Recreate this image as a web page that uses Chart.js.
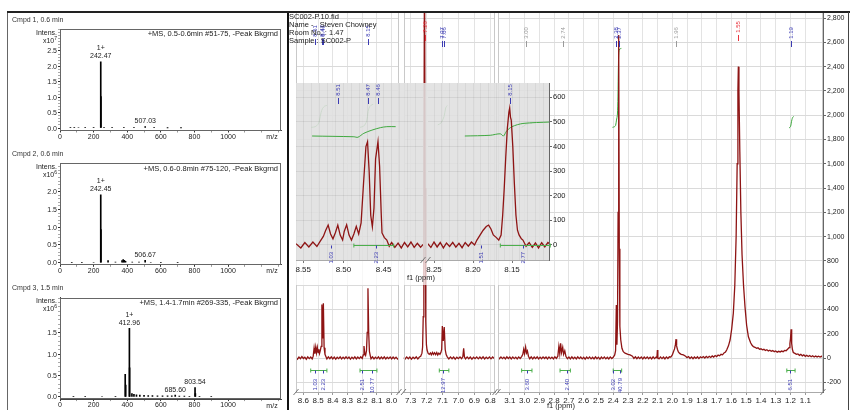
<!DOCTYPE html>
<html><head><meta charset="utf-8">
<script src="https://cdn.jsdelivr.net/npm/chart.js@4.4.1/dist/chart.umd.min.js"></script>
<style>
html,body{margin:0;padding:0;background:#fff;}
#root{position:relative;width:850px;height:410px;overflow:hidden;font-family:"Liberation Sans",Arial,sans-serif;background:#fff;}
#root canvas{position:absolute;left:0;top:0;}
.t{position:absolute;white-space:pre;color:#222;z-index:8;}
.box{position:absolute;}
</style></head><body><div id="root"></div>
<script>
// ================= DATA =================
// Mass spectra (left column)
const msTitles = ['Cmpd 1, 0.6 min', 'Cmpd 2, 0.6 min', 'Cmpd 3, 1.5 min'];
const msScanInfo = ['+MS, 0.5-0.6min #51-75, -Peak Bkgrnd', '+MS, 0.6-0.8min #75-120, -Peak Bkgrnd', '+MS, 1.4-1.7min #269-335, -Peak Bkgrnd'];
const msExponents = ['7', '6', '6'];
const msXTicks = [0, 100, 200, 300, 400, 500, 600, 700, 800, 900, 1000, 1100, 1200, 1300];
const msXTickLabels = [0, 200, 400, 600, 800, 1000];
const ms1YTicks = [0, 0.1, 0.2, 0.3, 0.4, 0.5, 0.6, 0.7, 0.8, 0.9, 1.0, 1.1, 1.2, 1.3, 1.4, 1.5, 1.6, 1.7, 1.8, 1.9, 2.0, 2.1, 2.2, 2.3, 2.4, 2.5, 2.6, 2.7, 2.8, 2.9, 3.0, 3.1, 3.2];
const ms2YTicks = [0, 0.1, 0.2, 0.3, 0.4, 0.5, 0.6, 0.7, 0.8, 0.9, 1.0, 1.1, 1.2, 1.3, 1.4, 1.5, 1.6, 1.7, 1.8, 1.9, 2.0, 2.1, 2.2, 2.3, 2.4, 2.5, 2.6, 2.7];
const ms3YTicks = [0, 0.1, 0.2, 0.3, 0.4, 0.5, 0.6, 0.7, 0.8, 0.9, 1.0, 1.1, 1.2, 1.3, 1.4, 1.5, 1.6, 1.7, 1.8, 1.9, 2.0, 2.1, 2.2, 2.3];
const ms1YLabels = [0.0, 0.5, 1.0, 1.5, 2.0, 2.5];
const ms2YLabels = [0.0, 0.5, 1.0, 1.5, 2.0];
const ms3YLabels = [0.0, 0.5, 1.0, 1.5];
const msYRanges = [[-0.081, 3.214], [-0.059, 2.8], [-0.049, 2.317]];

const ms1MZ  = [62, 85, 110, 150, 200, 242.47, 243.6, 262, 310, 380, 440, 507.03, 560, 640, 720];
const ms1Int = [0.012, 0.01, 0.015, 0.01, 0.012, 2.15, 1.02, 0.02, 0.01, 0.01, 0.008, 0.045, 0.01, 0.006, 0.005];
const ms1Labels = [[242.47, 2.15, '1+', '242.47'], [507.03, 0.045, '', '507.03']];

const ms2MZ  = [70, 130, 200, 242.45, 243.6, 286, 330, 369, 376, 383, 390, 430, 470, 506.67, 540, 600, 700];
const ms2Int = [0.01, 0.01, 0.012, 1.91, 0.93, 0.06, 0.015, 0.06, 0.09, 0.07, 0.04, 0.02, 0.015, 0.07, 0.012, 0.01, 0.006];
const ms2Labels = [[242.45, 1.91, '1+', '242.45'], [506.67, 0.07, '', '506.67']];

const ms3MZ  = [80, 150, 250, 330, 388, 391, 412.96, 414.2, 428, 440, 455, 475, 500, 525, 550, 580, 610, 640, 665, 685.6, 710, 740, 770, 803.54, 805.5, 830, 900];
const ms3Int = [0.01, 0.01, 0.012, 0.015, 0.53, 0.28, 1.6, 0.68, 0.08, 0.06, 0.05, 0.045, 0.04, 0.035, 0.035, 0.03, 0.03, 0.025, 0.03, 0.045, 0.02, 0.02, 0.015, 0.22, 0.08, 0.01, 0.006];
const ms3Labels = [[412.96, 1.6, '1+', '412.96'], [803.54, 0.22, '', '803.54'], [685.6, 0.045, '', '685.60']];

// 1H NMR: tick labels per ppm window
const seg1Ticks = [8.6, 8.5, 8.4, 8.3, 8.2, 8.1, 8.0];
const seg2Ticks = [7.3, 7.2, 7.1, 7.0, 6.9, 6.8];
const seg3Ticks = [3.1, 3.0, 2.9, 2.8, 2.7, 2.6, 2.5, 2.4, 2.3, 2.2, 2.1, 2.0, 1.9, 1.8, 1.7, 1.6, 1.5, 1.4, 1.3, 1.2, 1.1];
const nmrYTicks = [-200, 0, 200, 400, 600, 800, 1000, 1200, 1400, 1600, 1800, 2000, 2200, 2400, 2600, 2800];
const insetYTicks = [0, 100, 200, 300, 400, 500, 600];

// 1H NMR spectrum, three ppm windows [ppm, intensity]
const seg1Points = [[8.65,5],[8.64,-9],[8.63,8],[8.62,-6],[8.61,11],[8.60,-4],[8.59,7],[8.58,-10],[8.57,9],[8.56,-5],[8.55,8],[8.54,-7],[8.533,15],[8.527,82],[8.522,35],[8.516,90],[8.511,42],[8.505,88],[8.50,45],[8.495,72],[8.49,38],[8.485,62],[8.479,95],[8.474,440],[8.469,160],[8.464,450],[8.459,85],[8.453,30],[8.447,12],[8.44,-8],[8.43,9],[8.42,-6],[8.41,10],[8.40,-7],[8.39,8],[8.38,-9],[8.37,6],[8.36,-5],[8.35,9],[8.34,-8],[8.33,7],[8.32,-6],[8.31,10],[8.30,-5],[8.29,8],[8.28,-9],[8.27,7],[8.26,-6],[8.25,9],[8.24,-7],[8.23,8],[8.22,-5],[8.21,10],[8.20,-4],[8.193,25],[8.188,99],[8.183,38],[8.177,22],[8.171,60],[8.166,210],[8.161,574],[8.156,210],[8.151,55],[8.145,18],[8.14,-6],[8.13,9],[8.12,-8],[8.11,7],[8.10,-5],[8.09,10],[8.08,-7],[8.07,8],[8.06,-6],[8.05,9],[8.04,-8],[8.03,6],[8.02,-5],[8.01,9],[8.00,-7],[7.99,8],[7.98,-6],[7.97,7],[7.96,-9],[7.95,4]];
const seg2Points = [[7.345,3],[7.335,-8],[7.325,9],[7.315,-6],[7.305,8],[7.295,-9],[7.285,7],[7.275,-5],[7.265,10],[7.255,-7],[7.245,8],[7.237,14],[7.229,40],[7.225,90],[7.221,340],[7.217,1400],[7.213,3400],[7.209,1400],[7.205,300],[7.201,110],[7.197,66],[7.19,38],[7.183,30],[7.176,42],[7.17,26],[7.163,46],[7.157,30],[7.15,44],[7.143,28],[7.136,45],[7.13,25],[7.123,40],[7.116,30],[7.11,45],[7.105,70],[7.101,263],[7.095,140],[7.089,255],[7.083,70],[7.077,28],[7.07,10],[7.06,-7],[7.05,9],[7.04,-6],[7.03,8],[7.02,-9],[7.01,7],[7.00,-5],[6.99,9],[6.98,-6],[6.972,12],[6.967,80],[6.962,8],[6.955,-7],[6.945,9],[6.935,-6],[6.925,8],[6.915,-9],[6.905,7],[6.895,-5],[6.885,9],[6.875,-7],[6.865,8],[6.855,-6],[6.845,10],[6.835,-8],[6.825,7],[6.815,-5],[6.805,9],[6.795,-7],[6.785,8],[6.775,-4],[6.77,2]];
const seg3Points = [[3.18,8],[3.17,-6],[3.16,9],[3.15,-5],[3.14,7],[3.13,-8],[3.12,10],[3.11,-4],[3.10,8],[3.09,-7],[3.08,9],[3.07,-5],[3.06,7],[3.05,-8],[3.04,9],[3.03,-4],[3.02,12],[3.012,30],[3.006,72],[3.0,35],[2.993,90],[2.987,42],[2.981,58],[2.974,15],[2.965,-6],[2.955,9],[2.945,-7],[2.935,8],[2.925,-5],[2.915,9],[2.905,-8],[2.895,7],[2.885,-6],[2.875,9],[2.865,-4],[2.855,8],[2.845,-7],[2.835,9],[2.825,-5],[2.815,7],[2.805,-8],[2.795,10],[2.785,-3],[2.775,15],[2.768,95],[2.762,35],[2.756,121],[2.75,45],[2.742,88],[2.736,30],[2.728,60],[2.72,12],[2.71,-5],[2.70,8],[2.69,-7],[2.68,9],[2.67,-6],[2.66,7],[2.65,-8],[2.64,9],[2.63,-5],[2.62,8],[2.61,-7],[2.60,6],[2.59,-9],[2.58,8],[2.57,-5],[2.56,9],[2.55,-7],[2.54,6],[2.53,-8],[2.52,9],[2.51,-6],[2.50,7],[2.49,-9],[2.48,8],[2.47,-5],[2.46,9],[2.45,-7],[2.44,6],[2.43,-8],[2.42,9],[2.41,-4],[2.40,6],[2.39,25],[2.384,60],[2.379,436],[2.375,110],[2.371,300],[2.367,1200],[2.363,2660],[2.359,900],[2.355,260],[2.349,148],[2.341,80],[2.332,52],[2.32,40],[2.30,30],[2.286,25],[2.27,15],[2.26,-3],[2.25,10],[2.24,-6],[2.23,8],[2.22,-5],[2.21,9],[2.20,-7],[2.19,8],[2.18,-5],[2.17,9],[2.16,-6],[2.15,7],[2.14,-8],[2.13,9],[2.12,-5],[2.11,7],[2.104,2],[2.101,65],[2.098,3],[2.09,-7],[2.08,9],[2.07,-5],[2.06,8],[2.05,-7],[2.04,9],[2.03,-4],[2.02,10],[2.01,8],[2.0,25],[1.993,50],[1.985,75],[1.979,110],[1.975,155],[1.971,100],[1.965,70],[1.959,50],[1.95,38],[1.94,30],[1.925,25],[1.91,15],[1.90,3],[1.89,12],[1.88,-4],[1.87,9],[1.86,-6],[1.85,8],[1.84,-3],[1.83,10],[1.82,-5],[1.81,9],[1.80,2],[1.79,12],[1.78,0],[1.77,13],[1.76,3],[1.75,14],[1.74,5],[1.73,17],[1.72,8],[1.71,20],[1.70,12],[1.69,24],[1.68,18],[1.67,30],[1.66,26],[1.65,42],[1.64,50],[1.632,66],[1.62,100],[1.609,148],[1.598,240],[1.587,370],[1.577,600],[1.568,1000],[1.561,1600],[1.556,2200],[1.553,2400],[1.549,2200],[1.543,1700],[1.536,1200],[1.528,850],[1.518,600],[1.508,422],[1.497,270],[1.485,175],[1.47,125],[1.46,105],[1.451,93],[1.44,88],[1.43,80],[1.42,84],[1.41,72],[1.40,76],[1.39,68],[1.38,72],[1.37,62],[1.36,68],[1.35,58],[1.34,64],[1.33,55],[1.32,61],[1.31,52],[1.30,58],[1.29,48],[1.28,55],[1.27,50],[1.26,57],[1.25,52],[1.24,62],[1.23,60],[1.22,72],[1.21,85],[1.204,120],[1.2,160],[1.196,236],[1.192,120],[1.187,70],[1.181,45],[1.17,38],[1.16,30],[1.15,34],[1.14,22],[1.13,30],[1.12,18],[1.11,26],[1.10,14],[1.09,22],[1.08,12],[1.07,20],[1.06,10],[1.05,18],[1.04,8],[1.03,17],[1.02,9],[1.01,15],[1.0,8],[0.99,14],[0.98,10]];

// integral curves (green) in the main spectrum
const seg1IntCurves = [
  [[8.545,1900],[8.52,1905],[8.50,1925],[8.49,1960],[8.48,2020],[8.47,2055],[8.455,2075],[8.44,2080]],
  [[8.215,1900],[8.19,1910],[8.17,1950],[8.16,2030],[8.15,2070],[8.135,2085],[8.125,2090]]
];
const seg2IntCurves = [[[7.13,1920],[7.11,1935],[7.09,1990],[7.08,2060],[7.07,2080]]];
const seg3IntCurves = [
  [[3.02,1900],[3.005,1910],[2.99,1925],[2.975,1930],[2.95,1932]],
  [[2.405,1900],[2.392,1905],[2.384,1915],[2.378,1960],[2.372,2000],[2.368,2150],[2.365,2400],[2.362,2520],[2.356,2545],[2.345,2550]],
  [[1.21,1895],[1.2,1905],[1.195,1935],[1.19,1965],[1.185,1982],[1.178,1990]]
];

// peak labels [ppm, text, colour key]
const seg1PeakLabels = [[8.52,'8.51','b'],[8.474,'8.47','b'],[8.464,'8.46','b'],[8.161,'8.15','b']];
const seg2PeakLabels = [[7.213,'7.26','r'],[7.101,'7.07','b'],[7.089,'7.06','b']];
const seg3PeakLabels = [[2.99,'3.00','g'],[2.738,'2.74','g'],[2.379,'2.38','b'],[2.363,'2.37','b'],[1.975,'1.96','g'],[1.553,'1.55','r'],[1.196,'1.19','b']];

// integration ranges and values
const seg1Integrals = [[8.55,8.44],[8.215,8.10]];
const seg1IntValues = [[8.52,'1.03'],[8.464,'2.23'],[8.203,'2.51'],[8.135,'10.77']];
const seg2Integrals = [[7.12,7.06]];
const seg2IntValues = [[7.095,'12.97']];
const seg3Integrals = [[3.02,2.95],[2.76,2.69],[2.40,2.343],[1.225,1.169]];
const seg3IntValues = [[2.986,'3.60'],[2.715,'2.40'],[2.40,'3.02'],[2.354,'40.79'],[1.203,'6.51']];

// expansion (inset)
const insetAPoints = [[8.559,5],[8.553,-12],[8.548,10],[8.543,-8],[8.538,12],[8.533,-6],[8.529,15],[8.525,35],[8.522,60],[8.519,81],[8.516,45],[8.513,25],[8.51,50],[8.507,81],[8.504,40],[8.501,20],[8.499,55],[8.496,82],[8.493,40],[8.49,20],[8.487,45],[8.484,76],[8.481,45],[8.478,90],[8.475,250],[8.472,400],[8.47,420],[8.468,300],[8.466,120],[8.464,74],[8.462,150],[8.46,350],[8.457,420],[8.455,320],[8.453,130],[8.452,49],[8.449,30],[8.446,20],[8.443,-5],[8.44,10],[8.436,-10],[8.432,8],[8.428,-12],[8.424,10],[8.42,-8],[8.416,12],[8.412,-10],[8.408,7],[8.404,-9],[8.40,5]];
const insetBPoints = [[8.258,5],[8.254,-10],[8.25,12],[8.246,-8],[8.242,10],[8.238,-12],[8.234,8],[8.23,-6],[8.226,11],[8.222,-9],[8.218,7],[8.214,-11],[8.21,10],[8.206,-5],[8.202,12],[8.198,0],[8.195,20],[8.191,40],[8.187,60],[8.183,75],[8.18,81],[8.177,65],[8.174,41],[8.17,30],[8.167,20],[8.164,40],[8.162,120],[8.16,230],[8.158,360],[8.156,474],[8.154,540],[8.153,557],[8.152,520],[8.151,508],[8.149,400],[8.147,250],[8.145,122],[8.143,60],[8.141,41],[8.138,25],[8.136,20],[8.132,-5],[8.128,10],[8.124,-10],[8.12,8],[8.116,-12],[8.112,9],[8.108,-8],[8.104,10],[8.1,0]];
const insetAIntCurve = [[8.539,443],[8.487,440],[8.482,438],[8.4746,454],[8.4645,467],[8.454,477],[8.446,481],[8.435,481]];
const insetBIntCurve = [[8.2105,443],[8.178,446],[8.165,452],[8.161,443],[8.157,463],[8.150,481],[8.136,494],[8.101,500]];
const insetAPeakLabels = [[8.507,'8.51','b'],[8.47,'8.47','b'],[8.457,'8.46','b']];
const insetBPeakLabels = [[8.153,'8.15','b']];
const insetAIntegrals = [[8.487,8.4375]];
const insetAIntValues = [[8.515,'1.03'],[8.46,'2.23']];
const insetBIntegrals = [[8.165,8.101]];
const insetBIntValues = [[8.19,'1.51'],[8.136,'2.77']];

const headerLines = ['SC002-P.10.fid', 'Name -   Steven Chowney', 'Room No. : 1.47', 'Sample : SC002-P'];

// ================= DRAWING =================
Chart.defaults.font.family = '"Liberation Sans", Arial, sans-serif';
Chart.defaults.color = '#222';
const H = 430;
const root = document.getElementById('root');
const COL = {b:'#3b3bb3', r:'#e8323c', g:'#9a9a9a'};
const near = (list, v) => list.some(w => Math.abs(w - v) < 1e-6);

function canvas(l, w, z){ const c=document.createElement('canvas'); c.width=w; c.height=H; c.style.width=w+'px'; c.style.height=H+'px'; c.style.left=l+'px'; c.style.zIndex=z; root.appendChild(c); return c; }
function box(l,t,w,h,css){ const d=document.createElement('div'); d.className='box'; d.style.left=l+'px'; d.style.top=t+'px'; d.style.width=w+'px'; d.style.height=h+'px'; Object.assign(d.style, css||{}); root.appendChild(d); return d; }
function txt(s,x,y,o){ o=o||{}; const size=o.size||7; const d=document.createElement('div'); d.className='t'; d.style.fontSize=size+'px'; d.style.lineHeight=size+'px'; if(o.color) d.style.color=o.color; if(o.html) d.innerHTML=s; else d.textContent=s; d.style.top=(y-size/2)+'px'; if(o.align==='right') d.style.right=(850-x)+'px'; else if(o.align==='center'){ d.style.left=x+'px'; d.style.transform='translateX(-50%)'; } else d.style.left=x+'px'; root.appendChild(d); return d; }
function rotText(ctx,t,x,yc,color,size){ ctx.save(); ctx.translate(x,yc); ctx.rotate(-Math.PI/2); ctx.fillStyle=color; ctx.font=size+'px "Liberation Sans", Arial, sans-serif'; ctx.textAlign='center'; ctx.textBaseline='middle'; ctx.fillText(t,0,0); ctx.restore(); }

// ---- left column frame
box(7,12,279,400,{borderLeft:'1px solid #666', borderRight:'2px solid #111', zIndex:1});

const msGeom = [{top:29,bottom:130.5},{top:163.3,bottom:264.8},{top:297.6,bottom:399.1}];
const frame = {id:'frame', afterDraw(chart){ const {ctx, chartArea:a}=chart; ctx.save(); ctx.strokeStyle='#666'; ctx.lineWidth=1; ctx.strokeRect(Math.round(a.left)+0.5, Math.round(a.top)+0.5, Math.round(a.right)-Math.round(a.left)-1, Math.round(a.bottom)-Math.round(a.top)-1); ctx.restore(); }};
function msLabelPlugin(labels){ return {id:'mslab', afterDraw(chart){ const {ctx, scales:{x,y}}=chart; ctx.save(); ctx.font='7px "Liberation Sans", Arial, sans-serif'; ctx.fillStyle='#222'; ctx.textAlign='center'; ctx.textBaseline='middle'; labels.forEach(l=>{ const px=x.getPixelForValue(l[0]), py=y.getPixelForValue(l[1]); ctx.fillText(l[3],px,py-5.5); if(l[2]) ctx.fillText(l[2],px,py-13.5); }); ctx.restore(); }}; }

function makeMS(i, mz, inten, labels, yTicks, yLabels){
  const g = msGeom[i], yr = msYRanges[i];
  const cv = canvas(0, 288, 5);
  const chart = new Chart(cv, {
    type:'bar',
    data:{datasets:[{data: mz.map((m,k)=>({x:m, y:inten[k]})), backgroundColor:'#000', borderWidth:0, barThickness:1, grouped:false}]},
    options:{
      responsive:false, animation:false, devicePixelRatio:1, events:[],
      layout:{padding:{left:8, right:288-281, top:g.top, bottom:0}},
      plugins:{legend:{display:false}, tooltip:{enabled:false}},
      scales:{
        x:{type:'linear', offset:false, min:0, max:1315,
          afterBuildTicks:s=>{ s.ticks = msXTicks.map(v=>({value:v})); },
          grid:{offset:false, drawOnChartArea:false, tickLength:2, color:c=>(c.tick && near(msXTickLabels, c.tick.value))?'#333':'#999'},
          border:{color:'#444'},
          ticks:{autoSkip:false, maxRotation:0, padding:0, font:{size:7}, color:'#222',
            callback:v=> near(msXTickLabels, v) ? String(v) : ''},
          afterFit:s=>{s.height = H - g.bottom;}},
        y:{min:yr[0], max:yr[1],
          afterBuildTicks:s=>{ s.ticks = yTicks.map(v=>({value:v})); },
          grid:{drawOnChartArea:false, tickLength:2, color:c=>(c.tick && near(yLabels, c.tick.value))?'#333':'#aaa'},
          border:{color:'#444'},
          ticks:{display:false},
          afterFit:s=>{s.width=52;}}
      }
    },
    plugins:[frame, msLabelPlugin(labels)]
  });
  // y tick labels placed with the chart's own y scale
  const ys = chart.scales.y;
  yLabels.forEach(v => txt(v.toFixed(1), ys.right - 3, ys.getPixelForValue(v), {align:'right', size:7}));
  txt(msTitles[i], 12, g.top-10, {size:7, color:'#333'});
  txt('Intens.', 57, g.top+3, {align:'right', size:7});
  txt('x10<span style="font-size:5px;position:relative;top:-3px">'+msExponents[i]+'</span>', 57, g.top+11, {align:'right', size:7, html:true});
  txt(msScanInfo[i], 278, g.top+5, {align:'right', size:7.5});
  txt('m/z', 272, g.bottom+6, {align:'center', size:7});
}
makeMS(0, ms1MZ, ms1Int, ms1Labels, ms1YTicks, ms1YLabels);
makeMS(1, ms2MZ, ms2Int, ms2Labels, ms2YTicks, ms2YLabels);
makeMS(2, ms3MZ, ms3Int, ms3Labels, ms3YTicks, ms3YLabels);

// ---- NMR
function annot(o){ return {id:'annot', afterDatasetsDraw(chart){
  const {ctx, chartArea:a, scales:{x,y}} = chart;
  ctx.save(); ctx.lineWidth=1;
  if(o.frame){ ctx.strokeStyle=o.frame; ctx.beginPath(); const l=Math.round(a.left)+0.5, r=Math.round(a.right)-0.5; ctx.moveTo(l,a.top); ctx.lineTo(l,a.bottom); ctx.moveTo(r,a.top); ctx.lineTo(r,a.bottom); ctx.stroke(); }
  const iy = Math.round(y.getPixelForValue(o.intValue))+0.5;
  (o.integrals||[]).forEach(([f,t])=>{ const x1=x.getPixelForValue(f), x2=x.getPixelForValue(t); ctx.strokeStyle='#4caf4c'; ctx.beginPath(); ctx.moveTo(x1,iy); ctx.lineTo(x2,iy); ctx.moveTo(x1,iy-2); ctx.lineTo(x1,iy+2); ctx.moveTo(x2,iy-2); ctx.lineTo(x2,iy+2); ctx.stroke(); });
  (o.intValues||[]).forEach(([p,t])=>{ const px=Math.round(x.getPixelForValue(p))+0.5; ctx.strokeStyle=COL.b; ctx.beginPath(); ctx.moveTo(px,iy); ctx.lineTo(px,iy+3); ctx.stroke(); rotText(ctx,t,px,iy+o.intOff+t.length*0.8,COL.b,o.fs); });
  (o.peaks||[]).forEach(([p,t,c])=>{ const px=Math.round(x.getPixelForValue(p))+0.5; const col=COL[c]; const yc=(c==='r')?o.topY-6:o.topY; rotText(ctx,t,px,yc,col,o.fs); ctx.strokeStyle=col; ctx.beginPath(); ctx.moveTo(px,yc+8); ctx.lineTo(px,yc+14); ctx.stroke(); });
  ctx.strokeStyle='#777';
  (o.breaks||[]).forEach(side=>{ const bx = side==='l'?a.left:a.right; ctx.beginPath(); ctx.moveTo(bx-2.5,a.bottom+3); ctx.lineTo(bx+2.5,a.bottom-3); ctx.stroke(); });
  ctx.restore();
}}; }

function spectrum(o){
  const CL = 288, CW = 850-288;
  const cv = canvas(CL, CW, o.z);
  const ds = [{data:o.pts.map(p=>({x:p[0],y:p[1]})), borderColor:'#8e1414', borderWidth:1.3, pointRadius:0, tension:0, order:0}];
  (o.curves||[]).forEach(c=>ds.push({data:c.map(p=>({x:p[0],y:p[1]})), borderColor:'#3fa83f', borderWidth:1, pointRadius:0, tension:0.3, order:1}));
  const axisW = o.axisW||0;
  const xOpts = {type:'linear', reverse:true, min:o.xMin, max:o.xMax,
        grid:{color:o.xGrid, tickLength:3, tickColor:o.xTickColor},
        border:{color:'#aaa'},
        ticks:{stepSize:o.xStep, includeBounds:false, autoSkip:false, maxRotation:0, padding:o.xPad, font:{size:8}, color:'#222', callback:o.xLabel},
        afterFit:s=>{s.height = H - o.bottom;}};
  if(o.xTicks) xOpts.afterBuildTicks = s=>{ s.ticks = o.xTicks.map(v=>({value:v})); };
  new Chart(cv, {type:'line', data:{datasets:ds}, options:{
    responsive:false, animation:false, devicePixelRatio:1, events:[],
    layout:{padding:{left:o.left-CL, right:850-o.right-axisW, top:o.top, bottom:0}},
    plugins:{legend:{display:false}, tooltip:{enabled:false}},
    scales:{
      x:xOpts,
      y:{position: axisW?'right':'left', min:o.yMin, max:o.yMax,
        afterBuildTicks:s=>{ s.ticks = o.yTicks.map(v=>({value:v})); },
        grid:{color:o.yGrid, tickLength:3, tickColor:'#666', drawTicks:!!axisW},
        border:{display:!!axisW, color:'#666'},
        ticks:{display:!!axisW, autoSkip:false, padding:1, font:{size:o.yFont||7}, color:'#222'},
        afterFit:s=>{s.width = axisW;}}
    }}, plugins:[annot(o.annot)]});
}

const mainCommon = {z:2, top:12, bottom:392, yMin:-280, yMax:2850, yTicks:nmrYTicks, xStep:0.1, xPad:1,
  xGrid:'#e3e3e3', yGrid:'#dadada', xTickColor:'#999',
  xLabel:v=> Number(v).toFixed(1)};
spectrum(Object.assign({}, mainCommon, {left:296, right:399, xMin:7.95, xMax:8.65, xTicks:seg1Ticks, pts:seg1Points, curves:seg1IntCurves,
  annot:{frame:'#c9c9c9', intValue:-99, intOff:11, fs:6, topY:31, peaks:seg1PeakLabels, integrals:seg1Integrals, intValues:seg1IntValues, breaks:['l','r']}}));
spectrum(Object.assign({}, mainCommon, {left:403.5, right:495, xMin:6.77, xMax:7.345, xTicks:seg2Ticks, pts:seg2Points, curves:seg2IntCurves,
  annot:{frame:'#c9c9c9', intValue:-99, intOff:11, fs:6, topY:33, peaks:seg2PeakLabels, integrals:seg2Integrals, intValues:seg2IntValues, breaks:['l','r']}}));
spectrum(Object.assign({}, mainCommon, {left:498, right:823, xMin:0.98, xMax:3.18, axisW:27, xTicks:seg3Ticks, pts:seg3Points, curves:seg3IntCurves,
  annot:{frame:'#c9c9c9', intValue:-99, intOff:11, fs:6, topY:33, peaks:seg3PeakLabels, integrals:seg3Integrals, intValues:seg3IntValues, breaks:['l','r']}}));
txt('f1 (ppm)', 561, 406, {align:'center', size:7.5});

// ---- inset overlay
box(296,83,253,202,{background:'rgba(255,255,255,0.7)', zIndex:3});
box(296,83,253,177,{background:'rgba(208,208,208,0.6)', zIndex:3});
const insetCommon = {z:4, top:83, bottom:260, yMin:-61, yMax:658.5, yTicks:insetYTicks, xStep:0.01, xPad:2, yFont:7.5,
  xGrid:'rgba(0,0,0,0.05)', yGrid:'rgba(0,0,0,0.07)',
  xTickColor:c=>{ const r=Math.round(c.tick.value*100); return r%5===0?'#777':'rgba(0,0,0,0)'; },
  xLabel:v=>{ const r=Math.round(v*100); return r%5===0 ? (r/100).toFixed(2) : ''; }};
spectrum(Object.assign({}, insetCommon, {left:296, right:423, xMin:8.401, xMax:8.559, pts:insetAPoints, curves:[insetAIntCurve],
  annot:{intValue:0, intOff:9, fs:6, topY:90, peaks:insetAPeakLabels, integrals:insetAIntegrals, intValues:insetAIntValues, breaks:['r']}}));
spectrum(Object.assign({}, insetCommon, {left:428, right:549, xMin:8.1026, xMax:8.2577, axisW:20, pts:insetBPoints, curves:[insetBIntCurve],
  annot:{intValue:0, intOff:9, fs:6, topY:90, peaks:insetBPeakLabels, integrals:insetBIntegrals, intValues:insetBIntValues, breaks:['l']}}));
txt('f1 (ppm)', 421, 278, {align:'center', size:7.5});

// ---- header & frame lines
headerLines.forEach((s,i)=> txt(s, 289, 17+i*8, {size:7.5, color:'#222'}));
box(7,11,843,2,{background:'#222', zIndex:9});
box(848,12,1,400,{background:'#444', zIndex:9});
</script></body></html>
